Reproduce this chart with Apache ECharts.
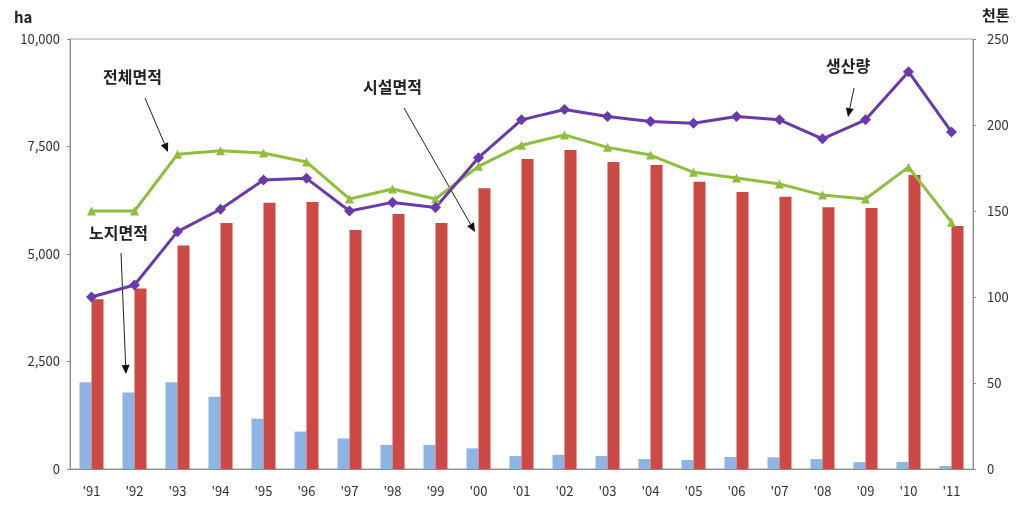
<!DOCTYPE html>
<html>
<head>
<meta charset="utf-8">
<script src="https://cdn.jsdelivr.net/npm/echarts@6/dist/echarts.min.js"></script>
<style>
  html, body { margin: 0; padding: 0; background: #fff; }
  #main { width: 1020px; height: 506px; }
</style>
</head>
<body>
<div id="main"></div>
<script>
var years = ["'91", "'92", "'93", "'94", "'95", "'96", "'97", "'98", "'99", "'00", "'01",
             "'02", "'03", "'04", "'05", "'06", "'07", "'08", "'09", "'10", "'11"];

// 노지면적 (ha)
var openArea = [2020, 1780, 2020, 1680, 1170, 870, 710, 560, 560, 480, 300,
                330, 300, 230, 210, 280, 270, 230, 160, 160, 70];
// 시설면적 (ha)
var houseArea = [3950, 4200, 5200, 5720, 6190, 6210, 5560, 5930, 5720, 6530, 7210,
                 7420, 7140, 7070, 6680, 6440, 6330, 6090, 6070, 6840, 5650];
// 전체면적 (ha)
var totalArea = [6000, 6000, 7320, 7400, 7350, 7140, 6280, 6510, 6280, 7040, 7530,
                 7770, 7480, 7300, 6900, 6770, 6630, 6370, 6280, 7020, 5740];
// 생산량 (천톤)
var production = [100, 107, 138, 151, 168, 169, 150, 155, 152, 181, 203,
                  209, 205, 202, 201, 205, 203, 192, 203, 231, 196];

var font = '"Noto Sans CJK KR", "Noto Sans", sans-serif';

var chart = echarts.init(document.getElementById('main'));

function label(text, x, y, size) {
  return {
    type: 'text', left: x, top: y,
    style: { text: text, font: 'bold ' + (size || 16) + 'px ' + font, fill: '#222' }
  };
}
function arrow(x1, y1, x2, y2) {
  var a = Math.atan2(y2 - y1, x2 - x1), s = 9, w = 4;
  var bx = x2 - s * Math.cos(a), by = y2 - s * Math.sin(a);
  return [
    { type: 'line', shape: { x1: x1, y1: y1, x2: bx, y2: by }, style: { stroke: '#222', lineWidth: 1 } },
    { type: 'polygon', shape: { points: [[x2, y2],
        [bx + w * Math.sin(a), by - w * Math.cos(a)],
        [bx - w * Math.sin(a), by + w * Math.cos(a)]] }, style: { fill: '#111' } }
  ];
}

var graphics = [
  label('전체면적', 103, 69),
  label('노지면적', 89, 225),
  label('시설면적', 363, 79),
  label('생산량', 826, 58),
  label('ha', 14, 10, 15),
  label('천톤', 982, 8, 15)
].concat(arrow(145, 98, 168, 152))
 .concat(arrow(121, 253, 126, 374))
 .concat(arrow(404, 108, 475, 232))
 .concat(arrow(854, 88, 848, 117));

var option = {
  animation: false,
  backgroundColor: '#fff',
  grid: { left: 70, right: 47, top: 39, bottom: 37, show: true, borderColor: '#a6a6a6', borderWidth: 1 },
  xAxis: {
    type: 'category',
    data: years,
    axisLine: { lineStyle: { color: '#8c8c8c' } },
    axisTick: { inside: true, length: 4, lineStyle: { color: '#8c8c8c' } },
    axisLabel: { color: '#333', fontFamily: font, fontSize: 13, margin: 16 }
  },
  yAxis: [
    {
      type: 'value', min: 0, max: 10000, interval: 2500,
      axisLine: { show: true, lineStyle: { color: '#8c8c8c' } },
      axisTick: { show: true, length: 3, lineStyle: { color: '#8c8c8c' } },
      splitLine: { show: false },
      axisLabel: {
        color: '#333', fontFamily: font, fontSize: 13, margin: 10,
        formatter: function (v) { return v.toLocaleString('en-US'); }
      }
    },
    {
      type: 'value', min: 0, max: 250, interval: 50,
      axisLine: { show: true, lineStyle: { color: '#8c8c8c' } },
      axisTick: { show: true, length: 3, lineStyle: { color: '#8c8c8c' } },
      splitLine: { show: false },
      axisLabel: { color: '#333', fontFamily: font, fontSize: 13, margin: 14 }
    }
  ],
  series: [
    {
      name: '노지면적', type: 'bar', data: openArea, barWidth: 12, barGap: '0%',
      itemStyle: { color: '#8db4e2' }
    },
    {
      name: '시설면적', type: 'bar', data: houseArea, barWidth: 12,
      itemStyle: { color: '#cc4a45' }
    },
    {
      name: '전체면적', type: 'line', data: totalArea,
      symbol: 'triangle', symbolSize: 9,
      lineStyle: { color: '#8fbf3f', width: 3 },
      itemStyle: { color: '#8fbf3f' }
    },
    {
      name: '생산량', type: 'line', data: production, yAxisIndex: 1,
      symbol: 'diamond', symbolSize: 11,
      lineStyle: { color: '#6a3aad', width: 3 },
      itemStyle: { color: '#6a3aad' }
    }
  ],
  graphic: graphics
};

chart.setOption(option);
</script>
</body>
</html>
